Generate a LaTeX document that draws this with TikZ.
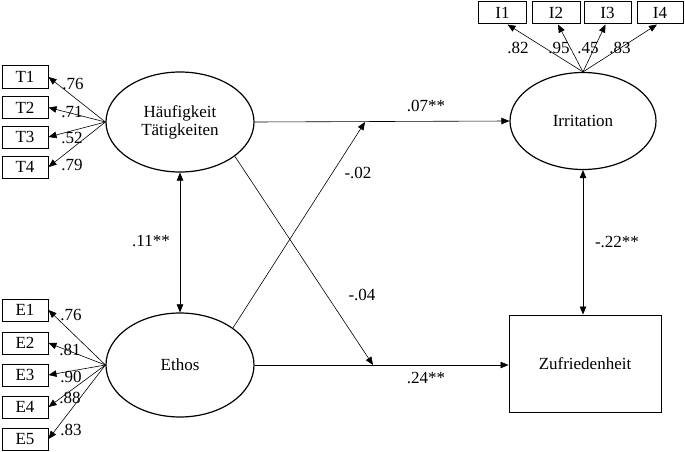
\documentclass[tikz,border=0pt]{standalone}
\usepackage{fontspec}
\setmainfont{Liberation Serif}
\usetikzlibrary{arrows.meta,shapes.geometric,calc}
\tikzset{
  ind/.style={draw,line width=1pt,minimum width=46pt,minimum height=22pt,inner sep=0pt},
  lat/.style={draw,ellipse,line width=1.2pt,inner sep=0pt,align=center},
  path/.style={draw,line width=0.6pt,-{Triangle[length=8pt,width=6.5pt]}},
  dpath/.style={draw,line width=0.6pt,{Triangle[length=8pt,width=6.5pt]}-{Triangle[length=8pt,width=6.5pt]}},
  lbl/.style={inner sep=0pt}
}
\begin{document}
\begin{tikzpicture}[x=1pt,y=-1pt,font=\fontsize{17}{19}\selectfont]
\useasboundingbox (0,0) rectangle (685,452);
% latent variables
\node[lat,minimum width=148pt,minimum height=100pt] (H) at (180,122) {Häufigkeit\\[-1pt]Tätigkeiten};
\node[lat,minimum width=148pt,minimum height=104pt] (Eth) at (180,365) {Ethos};
\node[lat,minimum width=146pt,minimum height=97pt] (Irr) at (583,121) {Irritation};
\node[draw,line width=1pt,minimum width=152pt,minimum height=97pt] (Zuf) at (585,363.5) {Zufriedenheit};
% indicators
\node[ind] (T1) at (25,77) {T1};
\node[ind] (T2) at (25,107.5) {T2};
\node[ind] (T3) at (25,137) {T3};
\node[ind] (T4) at (25,167) {T4};
\node[ind] (E1) at (25,310) {E1};
\node[ind] (E2) at (25,343) {E2};
\node[ind] (E3) at (25,375) {E3};
\node[ind] (E4) at (25,407) {E4};
\node[ind] (E5) at (25,439) {E5};
\node[ind,minimum width=48pt] (I1) at (502.5,13) {I1};
\node[ind,minimum width=48pt] (I2) at (556,13) {I2};
\node[ind,minimum width=47pt] (I3) at (607.5,13) {I3};
\node[ind,minimum width=46pt] (I4) at (660,13) {I4};
% loadings
\foreach \t in {T1,T2,T3,T4} \draw[path] (H.west) -- (\t.east);
\foreach \e in {E1,E2,E3,E4,E5} \draw[path] (Eth.west) -- (\e.east);
\draw[path] (Irr.north) -- ([xshift=5pt]I1.south);
\draw[path] (Irr.north) -- ([xshift=2pt]I2.south);
\draw[path] (Irr.north) -- ([xshift=-2pt]I3.south);
\draw[path] (Irr.north) -- ([xshift=-3pt]I4.south);
% loading labels
\node[lbl] (lt1) at (73,84) {.76};
\node[lbl] (lt2) at (72,112) {.71};
\node[lbl] (lt3) at (72,138) {.52};
\node[lbl] (lt4) at (72,165) {.79};
\node[lbl] (le1) at (71,315) {.76};
\node[lbl] (le2) at (70,350) {.81};
\node[lbl] (le3) at (71,377) {.90};
\node[lbl] (le4) at (70,398) {.88};
\node[lbl] (le5) at (71,430) {.83};
\node[lbl] (li1) at (518,48) {.82};
\node[lbl] (li2) at (559,48) {.95};
\node[lbl] (li3) at (588,48) {.45};
\node[lbl] (li4) at (620,48) {.83};
% structural paths
\coordinate (m1) at (365,122);
\coordinate (m2) at (373,365);
\draw[path] (H.east) -- (Irr.west);
\draw[path] (Eth.east) -- (Eth.east -| Zuf.west);
\draw[path] (Eth.35) -- (m1);
\draw[path] (H.-32) -- (m2);
\draw[dpath] (H.south) -- (Eth.north);
\draw[dpath] (Irr.south) -- (Irr.south |- Zuf.north);
% path labels
\node[lbl] (p1) at (426,106) {.07**};
\node[lbl] (p2) at (426,378) {.24**};
\node[lbl] (p3) at (358,173) {-.02};
\node[lbl] (p4) at (362,295) {-.04};
\node[lbl] (p5) at (151,241) {.11**};
\node[lbl] (p6) at (617,242) {-.22**};
\end{tikzpicture}
\end{document}
